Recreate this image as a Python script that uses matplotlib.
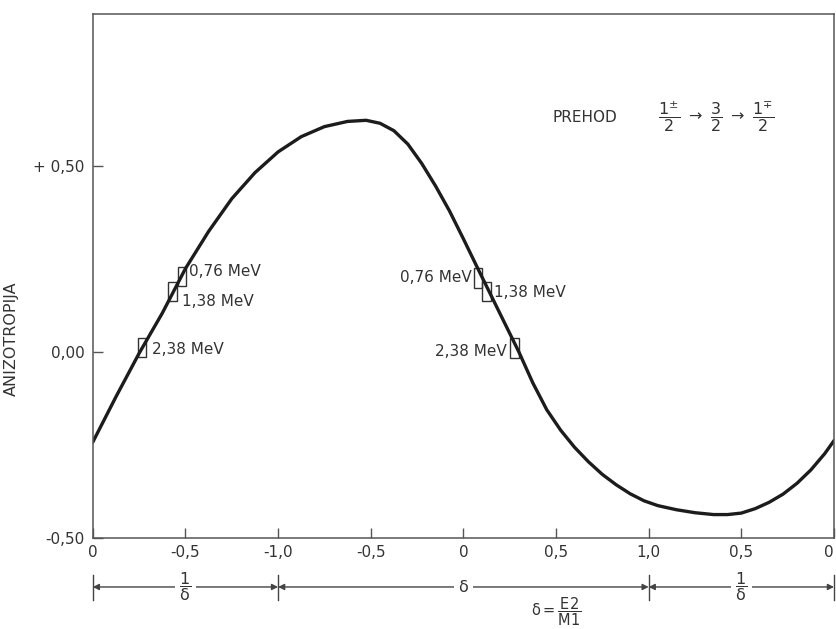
import matplotlib.pyplot as plt
from matplotlib.patches import Rectangle
from matplotlib.transforms import blended_transform_factory

plt.rcParams['font.family'] = ['DejaVu Sans']
plt.rcParams['mathtext.fontset'] = 'dejavusans'
plt.rcParams['mathtext.default'] = 'regular'

# lega na osi (0..8): 1/delta od 0 do -1, delta od -1 do 1, 1/delta od 1 do 0
curve_x = [0.00, 0.25, 0.50, 0.75, 1.00, 1.25, 1.50, 1.75, 2.00, 2.25, 2.50,
           2.75, 2.95, 3.10, 3.25, 3.40, 3.55, 3.70, 3.85, 4.00, 4.15, 4.30,
           4.45, 4.60, 4.75, 4.90, 5.05, 5.20, 5.35, 5.50, 5.65, 5.80, 5.95,
           6.10, 6.30, 6.50, 6.70, 6.85, 7.00, 7.15, 7.30, 7.45, 7.60, 7.75,
           7.90, 8.00]
curve_y = [-0.242, -0.120, -0.003, 0.105, 0.225, 0.325, 0.413, 0.483, 0.539,
           0.580, 0.607, 0.621, 0.624, 0.616, 0.596, 0.560, 0.508, 0.447, 0.380,
           0.305, 0.228, 0.152, 0.076, 0.000, -0.083, -0.155, -0.210, -0.256,
           -0.295, -0.329, -0.357, -0.381, -0.400, -0.413, -0.424, -0.432,
           -0.437, -0.437, -0.433, -0.421, -0.404, -0.382, -0.353, -0.317,
           -0.273, -0.238]

# izmerjene tocke
box_x = [0.96, 0.86, 0.53, 4.16, 4.25, 4.55]
box_y = [0.204, 0.164, 0.013, 0.200, 0.164, 0.011]
box_err = 0.026
box_labels = ['0,76 MeV', '1,38 MeV', '2,38 MeV', '0,76 MeV', '1,38 MeV', '2,38 MeV']

xtick_pos = [0, 1, 2, 3, 4, 5, 6, 7, 8]
xtick_labels = ['0', '-0,5', '-1,0', '-0,5', '0', '0,5', '1,0', '0,5', '0']
ytick_pos = [-0.5, 0.0, 0.5]
ytick_labels = ['-0,50', '0,00', '+ 0,50']

# razdelki spodaj: (zacetek, konec, napis)
ranges = [(0, 2, r'$\dfrac{1}{\delta}$'), (2, 6, r'$\delta$'), (6, 8, r'$\dfrac{1}{\delta}$')]

txt = '#333333'
line_c = '#555555'

fig = plt.figure(figsize=(8.36, 6.29), dpi=100)
ax = fig.add_axes([0.111, 0.1447, 0.8866, 0.833])

ax.plot(curve_x, curve_y, color='#1c1c1c', lw=2.4, solid_capstyle='round',
        solid_joinstyle='round')

box_w = 0.09
offsets = [(5.5, 3.5, 'left'), (6.5, -7.5, 'left'), (7, -1.5, 'left'),
           (-4.5, 0, 'right'), (5.5, -0.7, 'left'), (-5.5, -2.2, 'right')]
for x, y, lab, (dx, dy, ha) in zip(box_x, box_y, box_labels, offsets):
    ax.add_patch(Rectangle((x - box_w / 2, y - box_err), box_w, 2 * box_err,
                           fill=False, ec='#333333', lw=1.0))
    ax.annotate(lab, (x, y), xytext=(dx, dy), textcoords='offset points',
                ha=ha, va='center', fontsize=11, color=txt)

ax.set_xlim(0, 8)
ax.set_ylim(-0.5, 0.91)
ax.set_xticks(xtick_pos)
ax.set_xticklabels(xtick_labels)
ax.set_yticks(ytick_pos)
ax.set_yticklabels(ytick_labels)
ax.tick_params(direction='in', length=7, width=1.0, color=line_c,
               labelsize=11, labelcolor=txt)
ax.tick_params(axis='x', pad=5)
ax.tick_params(axis='y', pad=6)
ax.get_xticklabels()[-1].set_horizontalalignment('right')
for s in ax.spines.values():
    s.set_color(line_c)
    s.set_linewidth(1.1)

ax.set_ylabel('ANIZOTROPIJA', fontsize=11.5, color=txt)
ax.yaxis.set_label_coords(-0.1, 0.38)

ax.text(4.96, 0.632, 'PREHOD', fontsize=11, color=txt, va='center')
ax.text(6.1, 0.632,
        r'$\dfrac{1^{\pm}}{2}\ \rightarrow\ \dfrac{3}{2}\ \rightarrow\ \dfrac{1^{\mp}}{2}$',
        fontsize=11.5, color=txt, va='center')

# merilo pod osjo
tr = blended_transform_factory(ax.transData, ax.transAxes)
yd = -0.0935
for a, b, lab in ranges:
    m = (a + b) / 2
    for end in (a, b):
        ax.annotate('', xy=(end, yd), xytext=(m, yd), xycoords=tr, textcoords=tr,
                    annotation_clip=False,
                    arrowprops=dict(arrowstyle='-|>', color='#444444', lw=1.0,
                                    mutation_scale=9, shrinkA=0, shrinkB=0))
    ax.text(m, yd, lab, transform=tr, ha='center', va='center', fontsize=11.5,
            color=txt, bbox=dict(fc='white', ec='none', pad=3))
for end in (0, 2, 6, 8):
    ax.plot([end, end], [yd + 0.023, yd - 0.025], transform=tr, color='#444444',
            lw=1.0, clip_on=False)

ax.text(5.0, -0.14, r'$\delta = \dfrac{E2}{M1}$', transform=tr, ha='center',
        va='center', fontsize=10.5, color=txt)

fig.savefig('out.png', dpi=100)
